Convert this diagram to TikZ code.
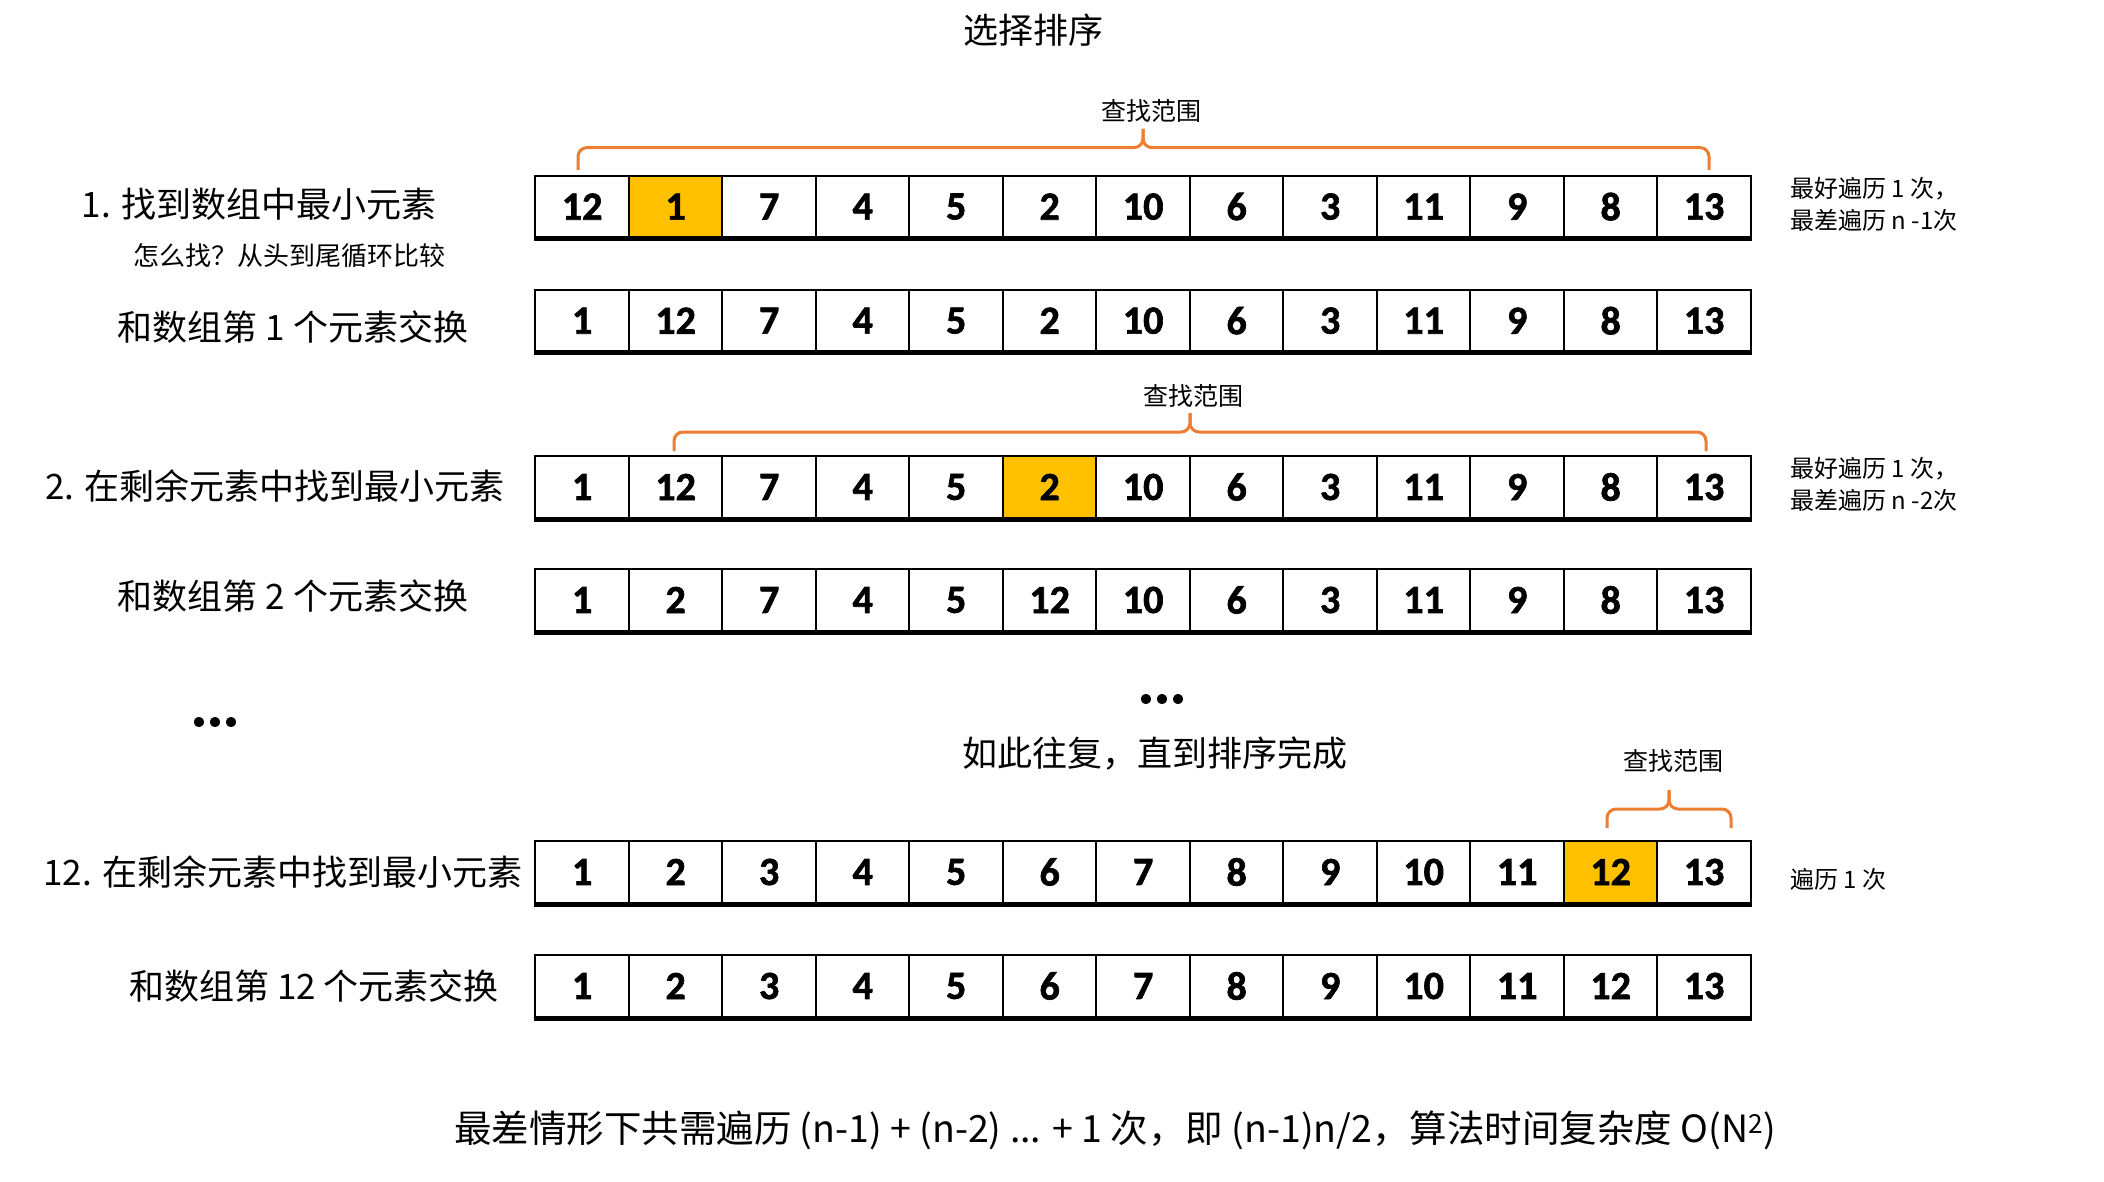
\documentclass[tikz,border=0pt]{standalone}
\usepackage{fontspec}
\setmainfont{Carlito}
\newfontfamily\numfont{Carlito}[FakeBold=1.6]
\newfontfamily\cjk{Noto Sans CJK SC}
\definecolor{hl}{HTML}{FFC000}
\definecolor{rangeorange}{HTML}{ED7D31}

\begin{document}
\begin{tikzpicture}[x=1pt, y=-1pt,
    cell/.style={draw, line width=2pt, minimum width=93.5pt, minimum height=62pt, inner sep=0pt,
        font=\numfont\fontsize{40}{40}\selectfont\bfseries},
    lab/.style={font=\cjk\fontsize{35}{40}\selectfont},
    note/.style={font=\cjk\fontsize{24}{32}\selectfont, align=left, anchor=west},
    rng/.style={font=\cjk\fontsize{25}{30}\selectfont},
    rangebrace/.style={draw=rangeorange, line width=3pt, rounded corners=9pt},
    shelf/.style={line width=5pt}]
    \useasboundingbox (0,0) rectangle (2104,1182);

    \node[lab] (title) at (1033,30) {选择排序};

    % the six arrays
    \foreach \r/\y/\hl/\vals in {
        1/206.6/2/{12,1,7,4,5,2,10,6,3,11,9,8,13},
        2/320.7/0/{1,12,7,4,5,2,10,6,3,11,9,8,13},
        3/487/6/{1,12,7,4,5,2,10,6,3,11,9,8,13},
        4/600/0/{1,2,7,4,5,12,10,6,3,11,9,8,13},
        5/872/12/{1,2,3,4,5,6,7,8,9,10,11,12,13},
        6/986/0/{1,2,3,4,5,6,7,8,9,10,11,12,13}} {
        \foreach \v [count=\c] in \vals {
            \ifnum\c=\hl \def\cellfill{hl}\else\def\cellfill{white}\fi
            \node[cell, fill=\cellfill] (r\r-\c) at ({535.4+93.5*(\c-0.5)},\y) {\v};
        }
        \draw[shelf] (r\r-1.south west) -- (r\r-13.south east);
    }

    % left labels
    \node[lab] (step1) at (259,204) {1. 找到数组中最小元素};
    \node[font=\cjk\fontsize{26}{30}\selectfont] (how) at (289,256) {怎么找？从头到尾循环比较};
    \node[lab] (swap1) at (293,327) {和数组第 1 个元素交换};
    \node[lab] (step2) at (275,486) {2. 在剩余元素中找到最小元素};
    \node[lab] (swap2) at (293,596) {和数组第 2 个元素交换};
    \node[font=\numfont\fontsize{60}{60}\selectfont\bfseries] (dotsl) at (215,722) {...};
    \node[font=\numfont\fontsize{60}{60}\selectfont\bfseries] (dotsm) at (1162,699) {...};
    \node[lab] (repeat) at (1155,754) {如此往复，直到排序完成};
    \node[lab] (step12) at (283,872) {12. 在剩余元素中找到最小元素};
    \node[lab] (swap12) at (314,986) {和数组第 12 个元素交换};

    % search ranges
    \draw[rangebrace] (578,170) |- (1143,147.6) -- (1143,129);
    \draw[rangebrace] (1143,129) -- (1143,147.6) -| (1709,170);
    \node[rng] (range1) at (1151,111) {查找范围};
    \draw[rangebrace] (674,451) |- (1190,432) -- (1190,413);
    \draw[rangebrace] (1190,413) -- (1190,432) -| (1706,451);
    \node[rng] (range3) at (1193,396) {查找范围};
    \draw[rangebrace] (1607,828) |- (1669,809) -- (1669,790);
    \draw[rangebrace] (1669,790) -- (1669,809) -| (1731,828);
    \node[rng] (range5) at (1673,761) {查找范围};

    % right notes
    \node[note] (cnt1) at (1787,204) {最好遍历 1 次，\\最差遍历 n -1次};
    \node[note] (cnt3) at (1787,484) {最好遍历 1 次，\\最差遍历 n -2次};
    \node[note] (cnt5) at (1787,879) {遍历 1 次};

    \node[font=\cjk\fontsize{37.5}{42}\selectfont] (sum) at (1115,1130) {最差情形下共需遍历 (n-1) + (n-2) ... + 1 次，即 (n-1)n/2，算法时间复杂度 O(N\textsuperscript{2})};
\end{tikzpicture}
\end{document}
